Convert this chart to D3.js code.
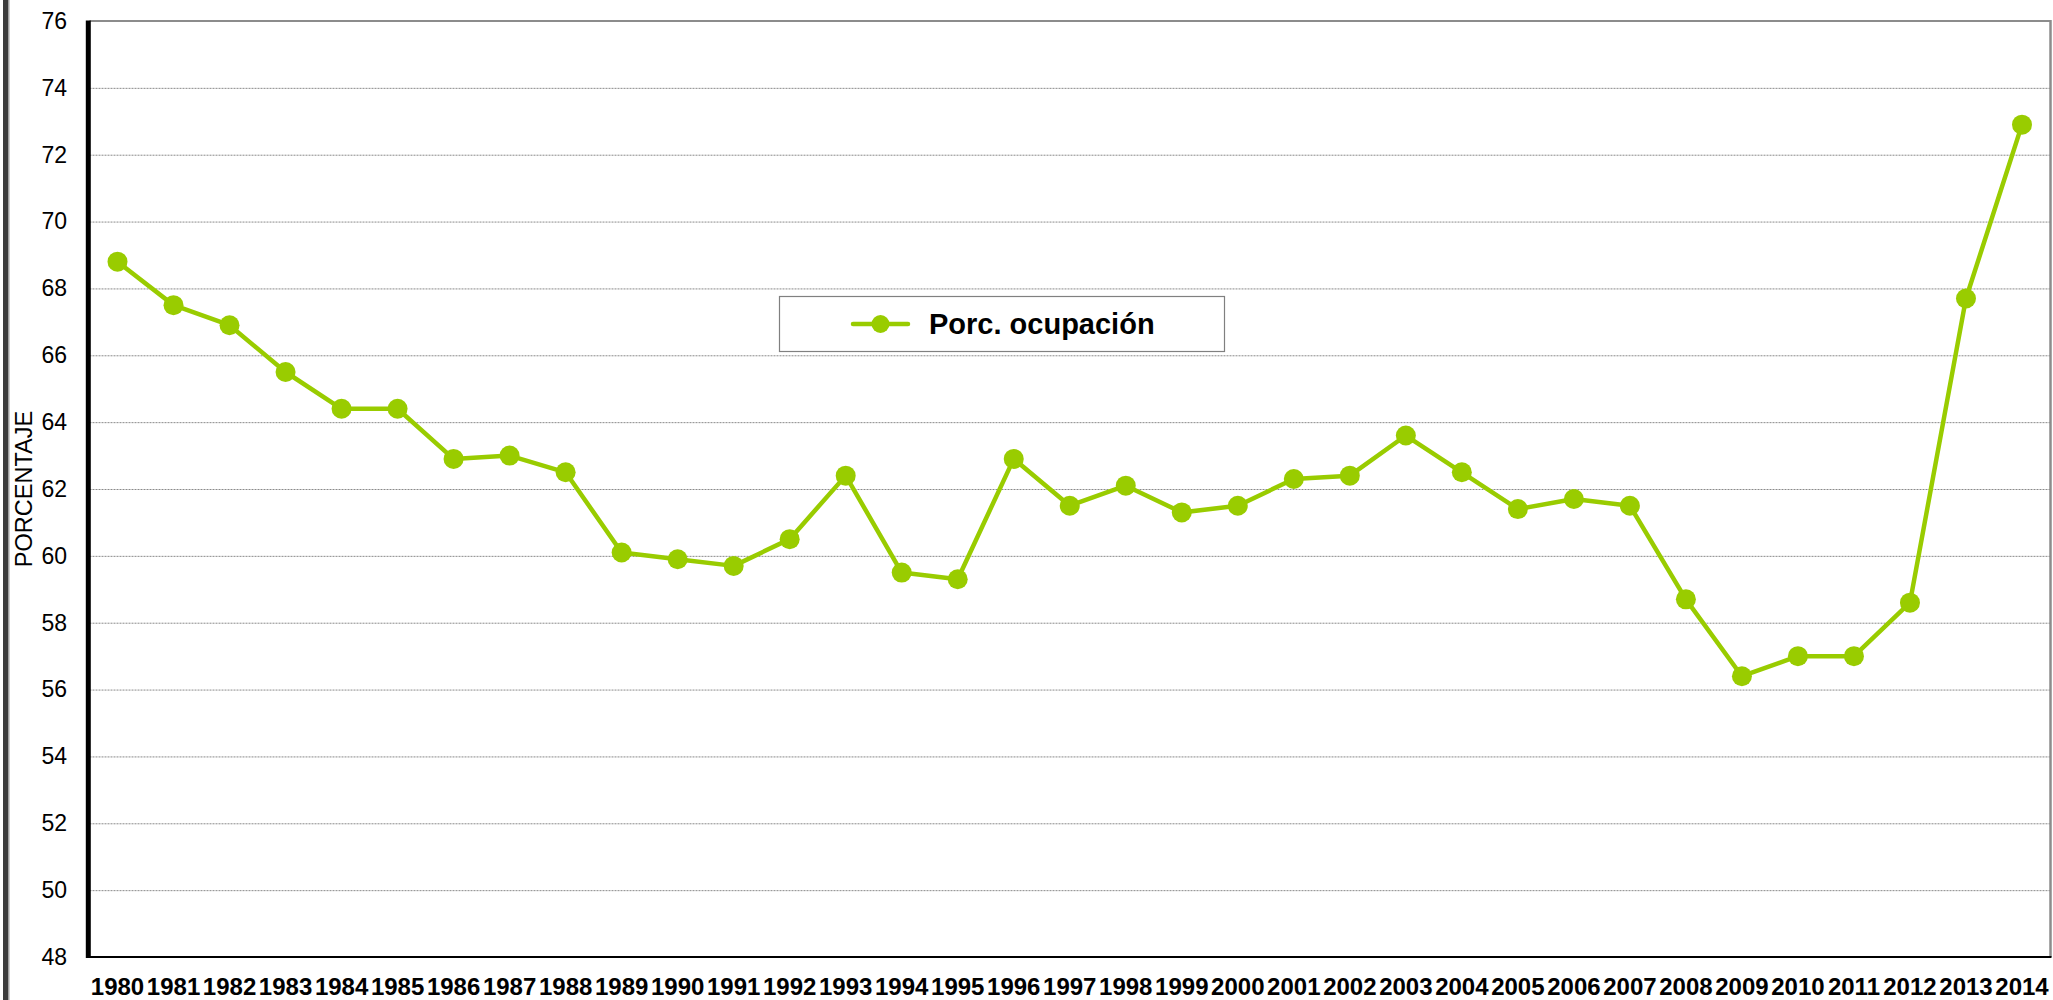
<!DOCTYPE html>
<html>
<head>
<meta charset="utf-8">
<script src="https://cdn.jsdelivr.net/npm/d3@7"></script>
<style>
  html, body { margin: 0; padding: 0; background: #fff; }
  svg { display: block; font-family: "Liberation Sans", Arial, sans-serif; }
  .grid line { stroke: #8a8a8a; stroke-width: 1; stroke-dasharray: 2,1; }
</style>
</head>
<body>
<svg id="chart" width="2053" height="1000"></svg>
<script>
const years = ["1980","1981","1982","1983","1984","1985","1986","1987","1988","1989",
  "1990","1991","1992","1993","1994","1995","1996","1997","1998","1999",
  "2000","2001","2002","2003","2004","2005","2006","2007","2008","2009",
  "2010","2011","2012","2013","2014"];
const ocupacion = [68.8, 67.5, 66.9, 65.5, 64.4, 64.4, 62.9, 63.0, 62.5, 60.1,
  59.9, 59.7, 60.5, 62.4, 59.5, 59.3, 62.9, 61.5, 62.1, 61.3,
  61.5, 62.3, 62.4, 63.6, 62.5, 61.4, 61.7, 61.5, 58.7, 56.4,
  57.0, 57.0, 58.6, 67.7, 72.9];
const yTicks = [48, 50, 52, 54, 56, 58, 60, 62, 64, 66, 68, 70, 72, 74, 76];
const seriesName = "Porc. ocupación";
const yTitle = "PORCENTAJE";

const green = "#99cc00";
const margin = { top: 21, right: 3, bottom: 43, left: 89.5 };
const width = 2053, height = 1000;
const svg = d3.select("#chart");

const x = d3.scaleBand().domain(years).range([margin.left, width - margin.right]);
const y = d3.scaleLinear().domain([48, 76]).range([height - margin.bottom, margin.top]);

// outer frame strip on the left
svg.append("rect").attr("x", 3).attr("y", 0).attr("width", 5).attr("height", height).attr("fill", "#3c3c3c");
svg.append("rect").attr("x", 8).attr("y", 0).attr("width", 1.5).attr("height", height).attr("fill", "#a0a0a0");

// gridlines
svg.append("g")
  .attr("class", "grid")
  .attr("transform", `translate(${margin.left},0)`)
  .call(d3.axisLeft(y).tickValues(yTicks.filter(d => d > 48 && d < 76)).tickSize(-(width - margin.right - margin.left)).tickFormat(""))
  .call(g => g.select(".domain").remove());

// plot frame: top and right gray
svg.append("line").attr("x1", margin.left).attr("x2", width - margin.right + 1)
  .attr("y1", margin.top).attr("y2", margin.top).attr("stroke", "#8c8c8c").attr("stroke-width", 2);
svg.append("line").attr("x1", width - margin.right + 0.5).attr("x2", width - margin.right + 0.5)
  .attr("y1", margin.top - 1).attr("y2", height - margin.bottom).attr("stroke", "#8c8c8c").attr("stroke-width", 2.5);

// y axis labels
svg.append("g")
  .attr("transform", `translate(67,0)`)
  .call(d3.axisLeft(y).tickValues(yTicks).tickSize(0).tickPadding(0))
  .call(g => g.select(".domain").remove())
  .call(g => g.selectAll("text").attr("font-size", 23).attr("font-family", "Liberation Sans, Arial, sans-serif").attr("fill", "#000"));

// x axis labels
svg.append("g")
  .attr("transform", `translate(0,${height - margin.bottom})`)
  .call(d3.axisBottom(x).tickSize(0).tickPadding(21))
  .call(g => g.select(".domain").remove())
  .call(g => g.selectAll("text").attr("font-size", 24).attr("font-weight", "bold")
    .attr("font-family", "Liberation Sans, Arial, sans-serif").attr("fill", "#000"));

// axis lines
svg.append("line").attr("x1", 86).attr("x2", width - margin.right + 1.5)
  .attr("y1", height - margin.bottom).attr("y2", height - margin.bottom)
  .attr("stroke", "#000").attr("stroke-width", 2.2);
svg.append("line").attr("x1", 88.3).attr("x2", 88.3)
  .attr("y1", margin.top - 0.5).attr("y2", height - margin.bottom + 1)
  .attr("stroke", "#000").attr("stroke-width", 5);

// y title
svg.append("text")
  .attr("transform", `translate(32,${(margin.top + height - margin.bottom) / 2}) rotate(-90)`)
  .attr("text-anchor", "middle")
  .attr("font-size", 23.5)
  .attr("fill", "#000")
  .text(yTitle);

// series
const rows = years.map((yr, i) => ({ year: yr, value: ocupacion[i] }));
const cx = d => x(d.year) + x.bandwidth() / 2;

svg.append("path")
  .datum(rows)
  .attr("fill", "none")
  .attr("stroke", green)
  .attr("stroke-width", 4.5)
  .attr("stroke-linejoin", "round")
  .attr("d", d3.line().x(cx).y(d => y(d.value)));

svg.append("g")
  .selectAll("circle")
  .data(rows)
  .join("circle")
  .attr("cx", cx)
  .attr("cy", d => y(d.value))
  .attr("r", 10)
  .attr("fill", green);

// legend
const legend = svg.append("g").attr("transform", "translate(779,296)");
legend.append("rect").attr("x", 0.5).attr("y", 0.5).attr("width", 445).attr("height", 55)
  .attr("fill", "#fff").attr("stroke", "#808080").attr("stroke-width", 1.2);
legend.append("line").attr("x1", 74).attr("x2", 129).attr("y1", 28).attr("y2", 28)
  .attr("stroke", green).attr("stroke-width", 4.5).attr("stroke-linecap", "round");
legend.append("circle").attr("cx", 101.5).attr("cy", 28).attr("r", 9).attr("fill", green);
legend.append("text").attr("x", 150).attr("y", 38).attr("font-size", 29).attr("font-weight", "bold")
  .attr("fill", "#000").text(seriesName);
</script>
</body>
</html>
